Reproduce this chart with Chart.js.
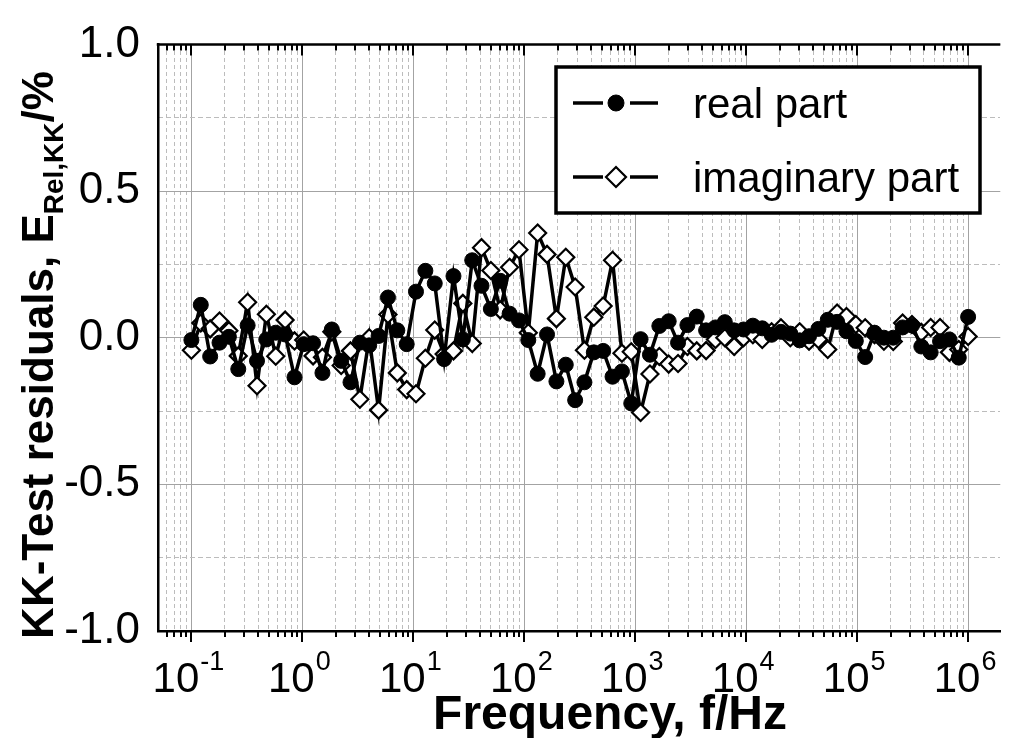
<!DOCTYPE html>
<html>
<head>
<meta charset="utf-8">
<script src="https://cdn.jsdelivr.net/npm/chart.js@4/dist/chart.umd.min.js"></script>
<style>
html,body{margin:0;padding:0;background:#fff;}
#wrap{width:1011px;height:738px;}
</style>
</head>
<body>
<div id="wrap"><canvas id="c" width="1011" height="738"></canvas></div>
<script>
// ---------- data ----------
const frequencyHz = [0.1, 0.1215, 0.1476, 0.1792, 0.2177, 0.2645, 0.3212, 0.3902, 0.4740, 0.5757, 0.6993, 0.8495,
  1.028, 1.249, 1.517, 1.843, 2.238, 2.715, 3.297, 4.004, 4.864, 5.908, 7.176, 8.717,
  10.57, 12.84, 15.60, 18.95, 23.01, 27.95, 33.95, 41.16, 49.97, 60.70, 73.73, 89.55,
  108.7, 132.0, 160.3, 194.8, 236.6, 287.4, 348.4, 423.2, 514.0, 624.4, 758.5, 920.4,
  1117, 1357, 1649, 2002, 2431, 2952, 3584, 4351, 5283, 6415, 7790, 9461,
  11489, 13951, 16937, 20566, 24976, 30333, 36830, 44734, 54310, 65948, 80097, 97265,
  118110, 143420, 174150, 211480, 256780, 311830, 378580, 459710, 558390, 678050, 823360, 1000000];

const realPart = [-0.008, 0.112, -0.064, -0.017, 0.003, -0.107, 0.042, -0.079, -0.006, 0.017,
  0.011, -0.135, -0.022, -0.019, -0.12, 0.028, -0.079, -0.152, -0.017, -0.026,
  0.006, 0.137, 0.025, -0.022, 0.157, 0.228, 0.185, -0.073, 0.21, -0.006,
  0.264, 0.177, 0.098, 0.194, 0.082, 0.059, -0.008, -0.123, 0.011, -0.149,
  -0.092, -0.213, -0.152, -0.05, -0.045, -0.133, -0.115, -0.224, -0.005, -0.058,
  0.04, 0.056, -0.017, 0.043, 0.072, 0.025, 0.035, 0.053, 0.025, 0.028,
  0.041, 0.032, 0.01, 0.02, 0.014, -0.009, 0.005, 0.03, 0.061, 0.054,
  0.022, -0.011, -0.066, 0.017, 0.0, 0.0, 0.035, 0.042, -0.03, -0.05,
  -0.012, -0.006, -0.068, 0.071];

const imaginaryPart = [-0.043, 0.05, 0.03, 0.057, 0.024, -0.062, 0.121, -0.164, 0.08, -0.063,
  0.06, -0.011, -0.008, -0.062, -0.067, 0.02, -0.095, -0.045, -0.21, 0.0,
  -0.247, 0.079, -0.12, -0.177, -0.191, -0.07, 0.026, -0.056, -0.045, 0.117,
  -0.02, 0.307, 0.229, 0.095, 0.24, 0.3, 0.017, 0.357, 0.284, 0.065,
  0.274, 0.173, -0.043, 0.07, 0.108, 0.264, -0.053, -0.048, -0.255, -0.124,
  -0.064, -0.09, -0.088, -0.03, -0.045, -0.044, -0.006, 0.0, -0.03, 0.0,
  0.01, -0.006, 0.02, 0.034, 0.0, 0.02, -0.012, -0.006, -0.04, 0.084,
  0.072, 0.045, 0.034, 0.01, -0.012, -0.013, 0.05, 0.045, 0.018, 0.035,
  0.035, -0.05, -0.04, 0.004];

const seriesLabels = ['real part', 'imaginary part'];
const decadeTicks = [0.1, 1, 10, 100, 1000, 10000, 100000, 1000000];
const decadeExponents = ['-1', '0', '1', '2', '3', '4', '5', '6'];
const yMajorTicks = [-1, -0.5, 0, 0.5, 1];
const yMinorTicks = [-0.75, -0.25, 0.25, 0.75];
const xTitle = 'Frequency, f/Hz';
const yTitleMain = 'KK-Test residuals, E';
const yTitleSub = 'Rel,KK';
const yTitleEnd = '/%';

const X_MIN = 0.05, X_MAX = 1.95e6;
// minor log ticks (2..9 x 10^n) inside the axis range
const xMinorTicks = [];
for (let e = -2; e <= 6; e++) {
  for (let m = 2; m <= 9; m++) {
    const v = m * Math.pow(10, e);
    if (v > X_MIN && v < X_MAX) xMinorTicks.push(v);
  }
}

const FONT = "'Liberation Sans', Arial, Helvetica, sans-serif";

function seg(ctx, x1, y1, x2, y2) {
  ctx.beginPath(); ctx.moveTo(x1, y1); ctx.lineTo(x2, y2); ctx.stroke();
}

const framePlugin = {
  id: 'frame',
  afterDraw(chart) {
    const ctx = chart.ctx;
    const a = chart.chartArea;
    const xs = chart.scales.x;
    ctx.save();
    ctx.strokeStyle = '#000';
    ctx.fillStyle = '#000';
    ctx.lineCap = 'butt';
    // top axis line
    ctx.lineWidth = 2.5;
    seg(ctx, a.left - 1.25, a.top, a.right, a.top);
    // ticks: bottom outward, top inward
    ctx.lineWidth = 2;
    decadeTicks.forEach(v => {
      const p = Math.round(xs.getPixelForValue(v));
      seg(ctx, p, a.bottom, p, a.bottom + 11);
      seg(ctx, p, a.top, p, a.top + 11);
    });
    xMinorTicks.forEach(v => {
      const p = Math.round(xs.getPixelForValue(v));
      seg(ctx, p, a.bottom, p, a.bottom + 6);
      seg(ctx, p, a.top, p, a.top + 6);
    });

    // x tick labels 10^n
    ctx.textAlign = 'left';
    ctx.textBaseline = 'alphabetic';
    decadeTicks.forEach((v, i) => {
      const p = xs.getPixelForValue(v);
      ctx.font = '42px ' + FONT;
      const wb = ctx.measureText('10').width;
      ctx.font = '27px ' + FONT;
      const ws = ctx.measureText(decadeExponents[i]).width;
      const x0 = p - (wb + ws + 1) / 2 - 3;
      ctx.font = '42px ' + FONT;
      ctx.fillText('10', x0, 692);
      ctx.font = '27px ' + FONT;
      ctx.fillText(decadeExponents[i], x0 + wb + 1, 670);
    });

    // x title
    ctx.font = 'bold 48px ' + FONT;
    ctx.textAlign = 'center';
    ctx.fillText(xTitle, 610, 729);

    // y title (rotated, with subscript)
    ctx.save();
    ctx.translate(53, 355);
    ctx.rotate(-Math.PI / 2);
    ctx.textAlign = 'left';
    ctx.font = 'bold 44px ' + FONT;
    const w1 = ctx.measureText(yTitleMain).width;
    const w3 = ctx.measureText(yTitleEnd).width;
    ctx.font = 'bold 28px ' + FONT;
    const w2 = ctx.measureText(yTitleSub).width;
    let tx = -(w1 + w2 + w3) / 2;
    ctx.font = 'bold 44px ' + FONT;
    ctx.fillText(yTitleMain, tx, 0);
    tx += w1;
    ctx.font = 'bold 28px ' + FONT;
    ctx.fillText(yTitleSub, tx, 10);
    tx += w2;
    ctx.font = 'bold 44px ' + FONT;
    ctx.fillText(yTitleEnd, tx, 0);
    ctx.restore();

    // legend
    const lx = 556, ly = 67, lw = 424, lh = 146;
    ctx.fillStyle = '#fff';
    ctx.fillRect(lx, ly, lw, lh);
    ctx.lineWidth = 3.5;
    ctx.strokeStyle = '#000';
    ctx.strokeRect(lx, ly, lw, lh);
    const rows = [103, 177];
    chart.data.datasets.forEach((ds, i) => {
      const yy = rows[i];
      ctx.lineWidth = 3.5;
      ctx.strokeStyle = ds.borderColor;
      seg(ctx, 573, yy, 603, yy);
      seg(ctx, 630, yy, 658, yy);
      ctx.fillStyle = ds.pointBackgroundColor;
      ctx.strokeStyle = ds.pointBorderColor;
      ctx.lineWidth = ds.pointBorderWidth;
      ctx.beginPath();
      if (ds.pointStyle === 'circle') {
        ctx.arc(616, yy, 8, 0, Math.PI * 2);
      } else {
        const r = 10;
        ctx.moveTo(616 - r, yy); ctx.lineTo(616, yy - r);
        ctx.lineTo(616 + r, yy); ctx.lineTo(616, yy + r); ctx.closePath();
      }
      ctx.fill(); ctx.stroke();
      ctx.fillStyle = '#000';
      ctx.font = '42px ' + FONT;
      ctx.textAlign = 'left';
      ctx.textBaseline = 'alphabetic';
      ctx.fillText(ds.label, 693, yy + 15);
    });
    ctx.restore();
  }
};

new Chart(document.getElementById('c'), {
  type: 'line',
  data: {
    datasets: [
      {
        label: seriesLabels[0],
        data: frequencyHz.map((f, i) => ({x: f, y: realPart[i]})),
        borderColor: '#000', borderWidth: 3.5, tension: 0, fill: false,
        pointStyle: 'circle', pointRadius: 7.5, pointBackgroundColor: '#000',
        pointBorderColor: '#000', pointBorderWidth: 1
      },
      {
        label: seriesLabels[1],
        data: frequencyHz.map((f, i) => ({x: f, y: imaginaryPart[i]})),
        borderColor: '#000', borderWidth: 3.5, tension: 0, fill: false,
        pointStyle: 'rectRot', pointRadius: 8.5, pointBackgroundColor: '#fff',
        pointBorderColor: '#000', pointBorderWidth: 2.2
      }
    ]
  },
  options: {
    responsive: false,
    animation: false,
    devicePixelRatio: 1,
    layout: {padding: {left: 0, top: 37, right: 10, bottom: 107}},
    plugins: {legend: {display: false}, tooltip: {enabled: false}},
    scales: {
      x: {
        type: 'logarithmic', axis: 'x', position: 'bottom', min: X_MIN, max: X_MAX,
        afterBuildTicks: s => { s.ticks = decadeTicks.map(v => ({value: v})); },
        ticks: {display: false},
        grid: {color: '#a3a3a3', lineWidth: 1, drawTicks: false},
        border: {display: true, color: '#000', width: 2.5}
      },
      xMinor: {
        type: 'logarithmic', axis: 'x', position: 'top', min: X_MIN, max: X_MAX,
        afterBuildTicks: s => { s.ticks = xMinorTicks.map(v => ({value: v})); },
        ticks: {display: false},
        grid: {color: '#bcbcbc', lineWidth: 1, drawTicks: false},
        border: {display: false, dash: [4, 3]}
      },
      y: {
        type: 'linear', axis: 'y', position: 'left', min: -1, max: 1,
        afterBuildTicks: s => { s.ticks = yMajorTicks.map(v => ({value: v})); },
        afterFit: s => { s.width = 158; },
        ticks: {
          color: '#000', padding: 18,
          font: {family: FONT, size: 44},
          callback: v => Number(v).toFixed(1)
        },
        grid: {color: '#a3a3a3', lineWidth: 1, drawTicks: false},
        border: {display: true, color: '#000', width: 2.5}
      },
      yMinor: {
        type: 'linear', axis: 'y', position: 'right', min: -1, max: 1,
        afterBuildTicks: s => { s.ticks = yMinorTicks.map(v => ({value: v})); },
        ticks: {display: false},
        grid: {color: '#bcbcbc', lineWidth: 1, drawTicks: false},
        border: {display: false, dash: [5, 3]}
      }
    }
  },
  plugins: [framePlugin]
});
</script>
</body>
</html>
